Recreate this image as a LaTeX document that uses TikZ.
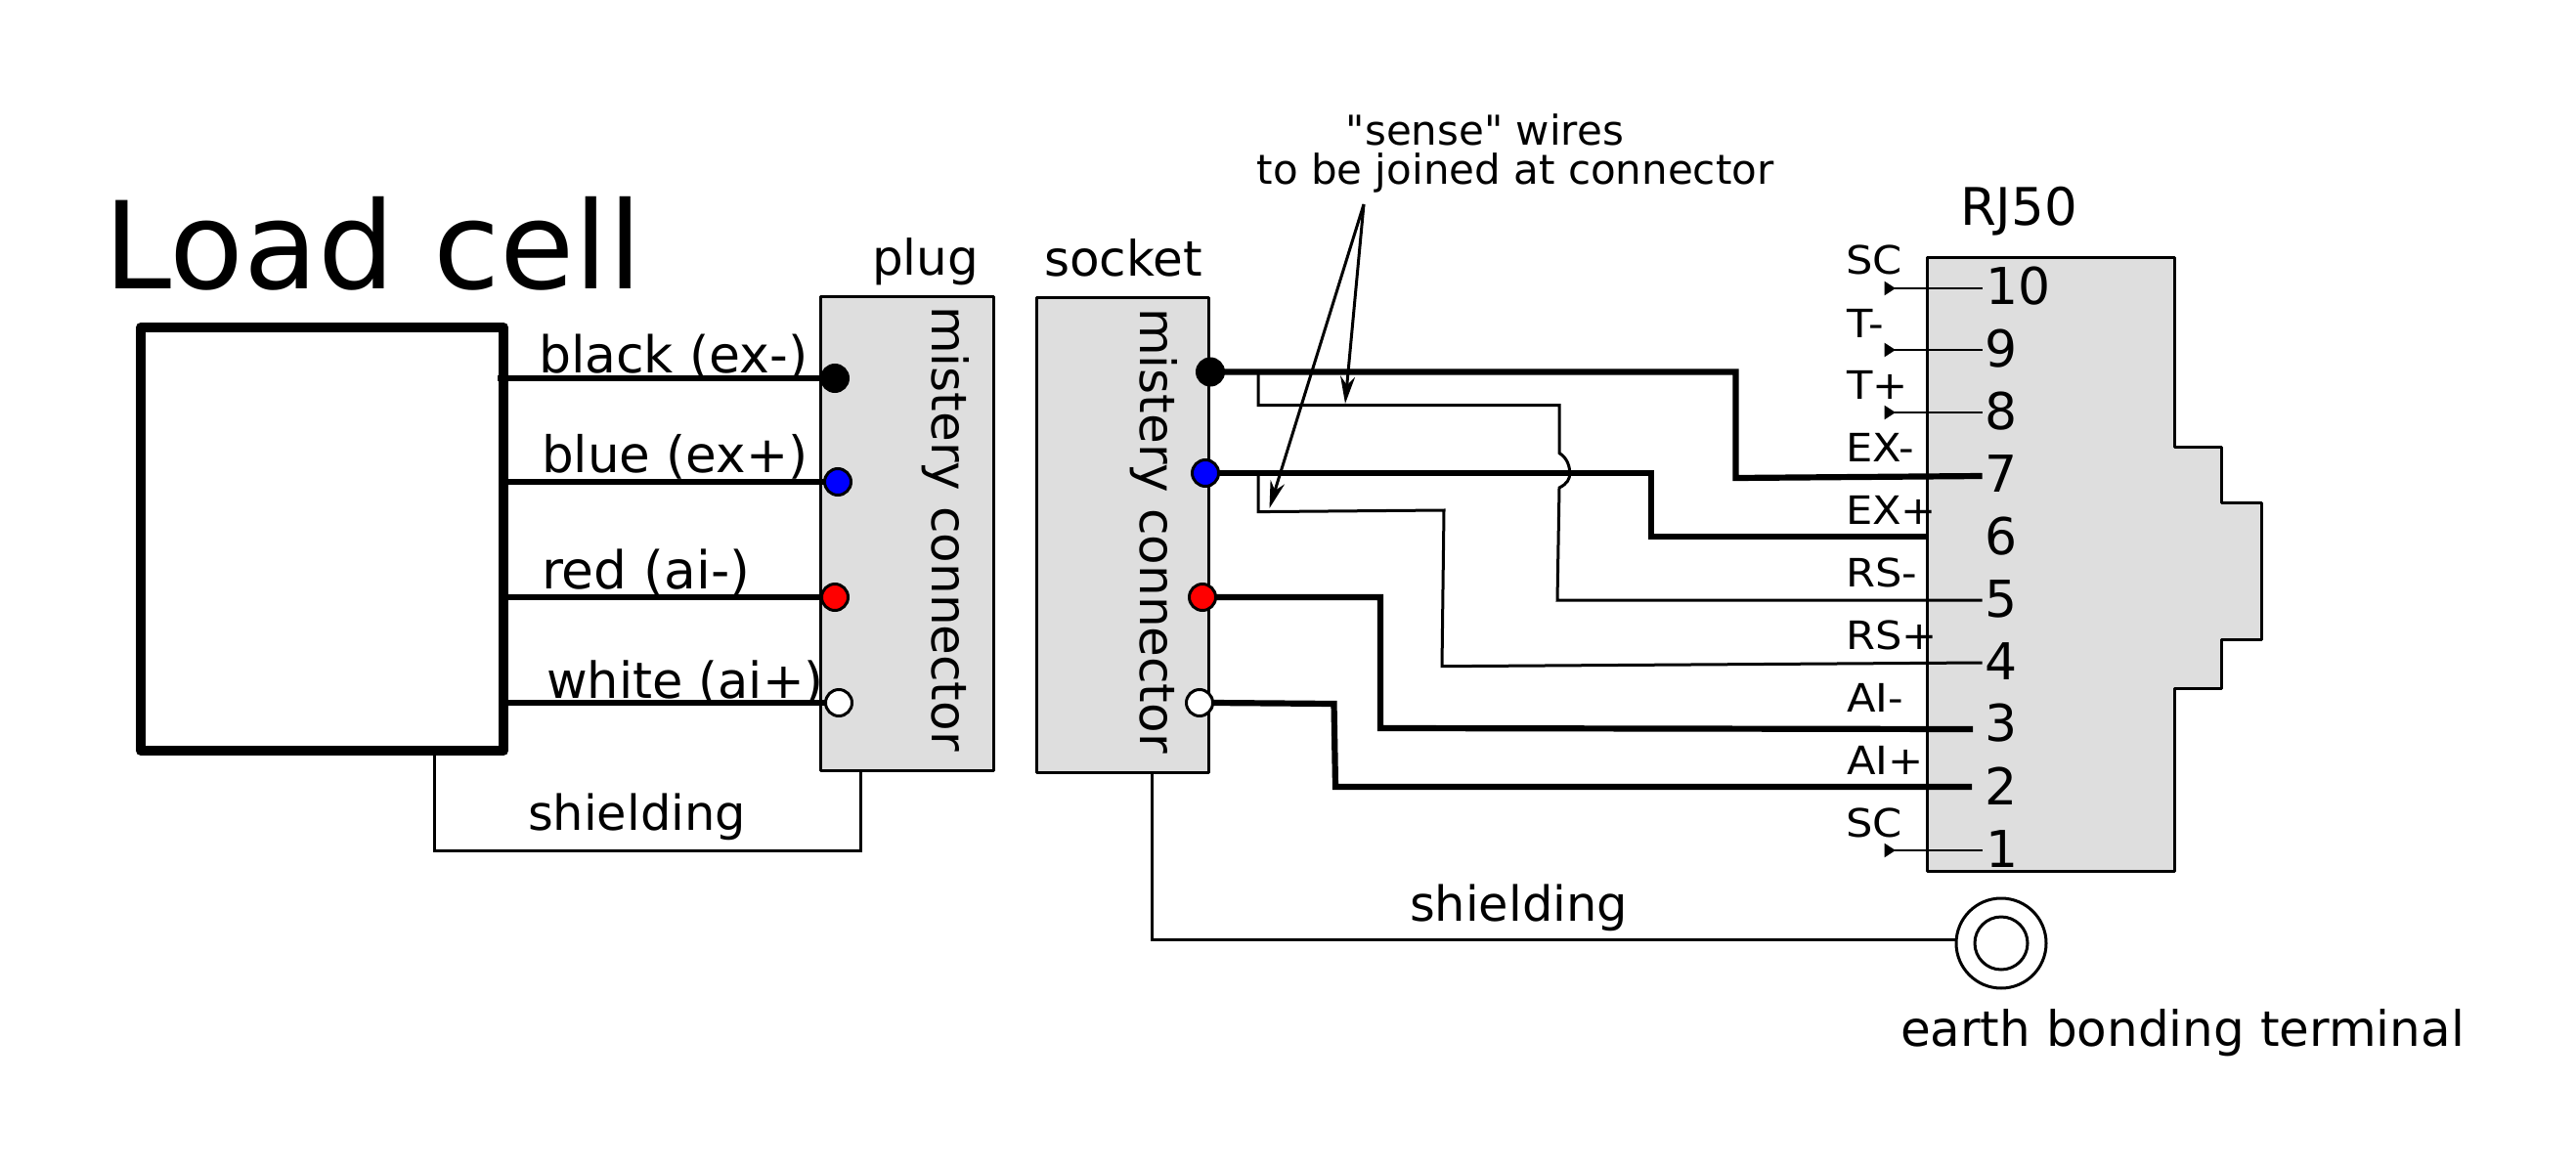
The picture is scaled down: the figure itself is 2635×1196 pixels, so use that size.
\documentclass[tikz,border=0pt]{standalone}
\usepackage{fontspec}
\setmainfont[Ligatures=TeXOff]{DejaVu Sans}
\usetikzlibrary{arrows.meta}
\definecolor{panelgrey}{HTML}{DEDEDE}
\newcommand{\fs}[1]{\fontsize{#1}{#1}\selectfont}
\tikzset{
  x=1pt,y=-1pt,
  panel/.style={draw=black,fill=panelgrey,line width=3pt,line join=round,inner sep=0pt,outer sep=0pt,anchor=north west},
  loadbox/.style={draw=black,fill=white,line width=10pt,line join=round,inner sep=0pt,outer sep=0pt,anchor=north west,minimum width=371pt,minimum height=433pt},
  heavy/.style={draw=black,line width=6.2pt,line join=miter},
  lightwire/.style={draw=black,line width=3pt,line join=miter},
  pinwire/.style={draw=black,line width=2.6pt,{Triangle[reversed,length=11.5pt,width=14pt]}-},
  dot/.style={circle,draw=black,line width=3pt,minimum size=27pt,inner sep=0pt,outer sep=0pt},
  lab/.style={anchor=base west,inner sep=0pt,outer sep=0pt,font=\fs{52}},
  midlab/.style={anchor=base west,inner sep=0pt,outer sep=0pt,font=\fs{50}},
  pinlab/.style={anchor=base west,inner sep=0pt,outer sep=0pt,font=\fs{40},xscale=1.08},
  pinnum/.style={anchor=base west,inner sep=0pt,outer sep=0pt,font=\fs{52}},
  vertlab/.style={anchor=base,rotate=-90,inner sep=0pt,outer sep=0pt,font=\fs{50}},
  pointer/.style={draw=black,line width=3pt,-{Stealth[length=28pt,width=15pt,inset=9pt]}},
}
\begin{document}
\begin{tikzpicture}
\useasboundingbox (0,0) rectangle (2635,1196);

% panels
\node[panel,minimum width=177pt,minimum height=485pt] (plug) at (839,303) {};
\node[panel,minimum width=176pt,minimum height=486pt] (socket) at (1060,304) {};
\draw[panel] (1971,263) -- (2224,263) -- (2224,457) -- (2272,457) -- (2272,514.5) -- (2313,514.5) -- (2313,654.5) -- (2272,654.5) -- (2272,704) -- (2224,704) -- (2224,891.5) -- (1971,891.5) -- cycle;
\coordinate (rjleft) at (1971,549);

% load cell
\node[loadbox] (cell) at (144,335) {};

% dots
\node[dot,fill=black] (pa) at (854,387) {};
\node[dot,fill=blue] (pb) at (857,493) {};
\node[dot,fill=red] (pc) at (854,611) {};
\node[dot,fill=white] (pd) at (858,719) {};
\node[dot,fill=black] (sa) at (1238,380.5) {};
\node[dot,fill=blue] (sb) at (1233,484) {};
\node[dot,fill=red] (sc) at (1230,611) {};
\node[dot,fill=white] (sd) at (1227,719) {};

% pin ends
\coordinate (p10) at (2027.5,295);
\coordinate (p9) at (2027.5,358);
\coordinate (p8) at (2027.5,422);
\coordinate (p7) at (2027.5,487);
\coordinate (p5) at (2027.5,614);
\coordinate (p4) at (2027.5,678);
\coordinate (p3) at (2018,746);
\coordinate (p2) at (2017,805);
\coordinate (p1) at (2027.5,870);

% load-cell wires
\draw[heavy] (509,387) -- (pa.west);
\draw[heavy] (515,493) -- (pb.west);
\draw[heavy] (515,611) -- (pc.west);
\draw[heavy] (515,719) -- (pd.west);

% shielding
\draw[lightwire] (444,768) -- (444,870) -- (880,870) -- (880,788);
\node[circle,draw=black,line width=3pt,fill=white,minimum size=92pt,inner sep=0pt,outer sep=0pt] (earth) at (2047,965) {};
\node[circle,draw=black,line width=3pt,fill=white,minimum size=54pt,inner sep=0pt,outer sep=0pt] (earthin) at (2047,965) {};
\draw[lightwire] (1178,790) -- (1178,961) -- (earth.west |- 0,961);

% socket thick wires
\draw[heavy] (sa.east) -- (1775.5,380.5) -- (1775.5,489) -- (p7);
\draw[heavy] (sb.east) -- (1689,484) -- (1689,549) -- (rjleft);
\draw[heavy] (sc.east) -- (1412,611) -- (1412,745) -- (p3);
\draw[heavy] (sd.east) -- (1364.5,720) -- (1366,805) -- (p2);

% sense wires
\draw[lightwire] (1287,381) -- (1287,414.6) -- (1595,414.6) -- (1595,463.6)
  .. controls (1603,468) and (1606,478) .. (1605.6,484)
  .. controls (1606,490) and (1603,495) .. (1595,499)
  -- (1593,614) -- (p5);
\draw[lightwire] (1287,484) -- (1287,523.6) -- (1477,522) -- (1475,681.7) -- (p4);

% pointers
\node[anchor=base,inner sep=0pt,font=\fs{42}] (sensea) at (1519,149) {"sense" wires};
\node[anchor=base,inner sep=0pt,font=\fs{42}] (senseb) at (1550,188) {to be joined at connector};
\coordinate (sensefrom) at (1395,209);
\coordinate (sensetoa) at (1376,413);
\coordinate (sensetob) at (1298.5,520);
\draw[pointer] (sensefrom) -- (sensetoa);
\draw[pointer] (sensefrom) -- (sensetob);

% pin stubs
\coordinate (t10) at (1927.5,295);
\coordinate (t9) at (1927.5,358);
\coordinate (t8) at (1927.5,422);
\coordinate (t1) at (1927.5,870);
\draw[pinwire] (t10) -- (p10);
\draw[pinwire] (t9) -- (p9);
\draw[pinwire] (t8) -- (p8);
\draw[pinwire] (t1) -- (p1);

% texts
\node[anchor=base west,inner sep=0pt,font=\fs{124}] (title) at (106,295) {Load cell};
\node[midlab] (tplug) at (892,281) {plug};
\node[midlab] (tsocket) at (1068,282) {socket};
\node[vertlab] (vplug) at (953,541) {mistery connector};
\node[vertlab] (vsocket) at (1166,543) {mistery connector};
\node[lab] (l1) at (551,381) {black (ex-)};
\node[lab,font=\fs{51.5}] (l2) at (554,483) {blue (ex+)};
\node[lab,font=\fs{53.5}] (l3) at (554,602) {red (ai-)};
\node[lab,font=\fs{51}] (l4) at (559,714) {white (ai+)};
\node[midlab,font=\fs{49.5}] (s1) at (540,849) {shielding};
\node[midlab,font=\fs{49.5}] (s2) at (1442,942) {shielding};
\node[midlab] (tearth) at (1944,1070) {earth bonding terminal};
\node[midlab,font=\fs{53}] (trj) at (2005,230) {RJ50};

\node[pinlab] at (1888,280) {SC};
\node[pinlab] at (1889,345) {T-};
\node[pinlab] at (1889,408) {T+};
\node[pinlab] at (1888,472) {EX-};
\node[pinlab] at (1888,536) {EX+};
\node[pinlab] at (1888,600) {RS-};
\node[pinlab] at (1888,664) {RS+};
\node[pinlab] at (1889,728) {AI-};
\node[pinlab] at (1889,792) {AI+};
\node[pinlab] at (1888,856) {SC};

\node[pinnum] at (2031,311) {10};
\node[pinnum] at (2030,375) {9};
\node[pinnum] at (2030,439) {8};
\node[pinnum] at (2030,503) {7};
\node[pinnum] at (2030,567) {6};
\node[pinnum] at (2030,631) {5};
\node[pinnum] at (2030,695) {4};
\node[pinnum] at (2030,758) {3};
\node[pinnum] at (2030,823) {2};
\node[pinnum] at (2031,887) {1};
\end{tikzpicture}
\end{document}
